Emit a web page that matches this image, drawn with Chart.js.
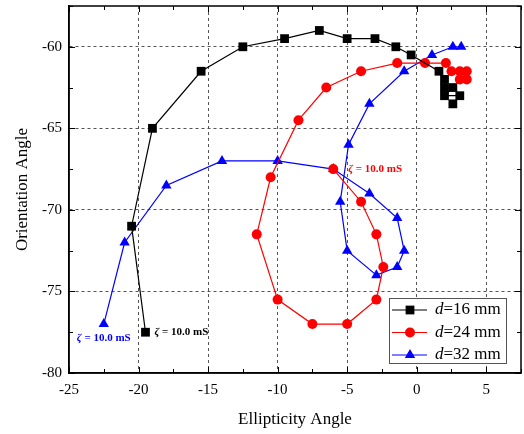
<!DOCTYPE html>
<html>
<head>
<meta charset="utf-8">
<script src="https://cdn.jsdelivr.net/npm/chart.js@4.4.1/dist/chart.umd.min.js"></script>
<style>
  html, body { margin: 0; padding: 0; background: #fff; }
  #wrap { width: 524px; height: 434px; }
</style>
</head>
<body>
<div id="wrap"><canvas id="chart" width="524" height="434"></canvas></div>
<script>
(function() {
    'use strict';

    // axis ticks
    const xTicks = [-25, -20, -15, -10, -5, 0, 5];
    const yTicks = [-80, -75, -70, -65, -60];

    // d = 16 mm
    const ellip16 = [-19.5, -20.5, -19, -15.5, -12.5, -9.5, -7, -5, -3, -1.5, -0.4, 1.6, 2, 2, 2.6, 2, 3.1, 2.6];
    const orient16 = [-77.5, -71, -65, -61.5, -60, -59.5, -59, -59.5, -59.5, -60, -60.5, -61.5, -62, -62.5, -62.5, -63, -63, -63.5];

    // d = 24 mm
    const ellip24 = [-6, -4, -2.9, -2.4, -2.9, -5, -7.5, -10, -11.5, -10.5, -8.5, -6.5, -4, -1.4, 0.6, 2.1, 2.5, 3.1, 3.6, 3.1, 3.6];
    const orient24 = [-67.5, -69.5, -71.5, -73.5, -75.5, -77, -77, -75.5, -71.5, -68, -64.5, -62.5, -61.5, -61, -61, -61, -61.5, -61.5, -61.5, -62, -62];

    // d = 32 mm
    const ellip32 = [-22.5, -21, -18, -14, -10, -6, -3.4, -1.4, -0.9, -1.4, -2.9, -5, -5.5, -4.9, -3.4, -0.9, 1.1, 2.6, 3.2];
    const orient32 = [-77, -72, -68.5, -67, -67, -67.5, -69, -70.5, -72.5, -73.5, -74, -72.5, -69.5, -66, -63.5, -61.5, -60.5, -60, -60];

    const seriesNames = ['16', '24', '32'];
    const seriesColors = ['#000000', '#ff0000', '#0000ff'];
    const seriesPoints = ['rect', 'circle', 'triangle'];
    const seriesRadius = [6.2, 5, 6];

    const SERIF = '"Liberation Serif", "Times New Roman", serif';

    function toPoints(xs, ys) {
        return xs.map((v, i) => ({ x: v, y: ys[i] }));
    }

    const allX = [ellip16, ellip24, ellip32];
    const allY = [orient16, orient24, orient32];

    const datasets = seriesNames.map((name, i) => ({
        label: 'd=' + name + ' mm',
        data: toPoints(allX[i], allY[i]),
        borderColor: seriesColors[i],
        backgroundColor: seriesColors[i],
        pointStyle: seriesPoints[i],
        pointRadius: seriesRadius[i],
        pointBorderWidth: 0,
        borderWidth: 1.2,
        tension: 0,
        fill: false
    }));

    // ζ = 10.0 mS labels
    function drawZeta(ctx, px, py, color, align) {
        ctx.save();
        ctx.fillStyle = color;
        ctx.textBaseline = 'middle';
        const f1 = 'italic bold 11px ' + SERIF;
        const f2 = 'bold 11px ' + SERIF;
        ctx.font = f1;
        const w1 = ctx.measureText('ζ').width;
        ctx.font = f2;
        const rest = ' = 10.0 mS';
        const w2 = ctx.measureText(rest).width;
        let x0 = px;
        if (align === 'center') x0 = px - (w1 + w2) / 2;
        ctx.textAlign = 'left';
        ctx.font = f1;
        ctx.fillText('ζ', x0, py);
        ctx.font = f2;
        ctx.fillText(rest, x0 + w1, py);
        ctx.restore();
    }

    const framePlugin = {
        id: 'frame',
        afterDraw(chart) {
            const { ctx, chartArea: a, scales: { x, y } } = chart;
            ctx.save();
            ctx.strokeStyle = '#000';
            ctx.lineWidth = 1.5;
            ctx.strokeRect(a.left, a.top, a.right - a.left, a.bottom - a.top);

            // inward ticks on all four sides
            ctx.lineWidth = 1;
            ctx.beginPath();
            for (let v = x.min; v <= x.max + 0.001; v += 2.5) {
                const len = (Math.abs(v % 5) < 0.01) ? 6 : 4;
                const px = Math.round(x.getPixelForValue(v)) + 0.5;
                ctx.moveTo(px, a.bottom); ctx.lineTo(px, a.bottom - len);
                ctx.moveTo(px, a.top); ctx.lineTo(px, a.top + len);
            }
            for (let v = y.min; v <= y.max + 0.001; v += 2.5) {
                const len = (Math.abs(v % 5) < 0.01) ? 6 : 4;
                const py = Math.round(y.getPixelForValue(v)) + 0.5;
                ctx.moveTo(a.left, py); ctx.lineTo(a.left + len, py);
                ctx.moveTo(a.right, py); ctx.lineTo(a.right - len, py);
            }
            ctx.stroke();

            // annotations
            drawZeta(ctx, x.getPixelForValue(ellip16[0]) + 9, y.getPixelForValue(orient16[0]), '#000000', 'left');
            drawZeta(ctx, x.getPixelForValue(ellip24[0]) + 15, y.getPixelForValue(orient24[0]), '#ff0000', 'left');
            drawZeta(ctx, x.getPixelForValue(ellip32[0]), y.getPixelForValue(orient32[0]) + 14, '#0000ff', 'center');

            // legend box
            const bx = a.right - 132, by = a.bottom - 75, bw = 117, bh = 65;
            ctx.fillStyle = '#fff';
            ctx.fillRect(bx, by, bw, bh);
            ctx.strokeStyle = '#555';
            ctx.lineWidth = 1;
            ctx.strokeRect(bx + 0.5, by + 0.5, bw, bh);
            seriesNames.forEach((name, i) => {
                const ry = by + 12 + i * 22.5;
                ctx.strokeStyle = seriesColors[i];
                ctx.fillStyle = seriesColors[i];
                ctx.lineWidth = 1.2;
                ctx.beginPath();
                ctx.moveTo(bx + 3, ry);
                ctx.lineTo(bx + 38, ry);
                ctx.stroke();
                Chart.helpers.drawPoint(ctx, { pointStyle: seriesPoints[i], radius: seriesRadius[i], rotation: 0, borderWidth: 0 }, bx + 21, ry);
                ctx.fillStyle = '#000';
                ctx.textBaseline = 'middle';
                ctx.textAlign = 'left';
                ctx.font = 'italic 17px ' + SERIF;
                const tx = bx + 46;
                ctx.fillText('d', tx, ry);
                const wd = ctx.measureText('d').width;
                ctx.font = '17px ' + SERIF;
                ctx.fillText('=' + name + ' mm', tx + wd, ry);
            });
            ctx.restore();
        }
    };

    document.addEventListener('DOMContentLoaded', () => {
        const ctx = document.getElementById('chart');
        new Chart(ctx, {
            type: 'line',
            data: { datasets: datasets },
            plugins: [framePlugin],
            options: {
                responsive: false,
                animation: false,
                layout: { autoPadding: false, padding: { left: 0, right: 3, top: 6, bottom: 0 } },
                plugins: {
                    legend: { display: false },
                    tooltip: { enabled: false }
                },
                scales: {
                    x: {
                        type: 'linear',
                        min: -25,
                        max: 7.5,
                        afterBuildTicks: (scale) => { scale.ticks = xTicks.map(v => ({ value: v })); },
                        afterFit: (scale) => {
                            scale.height = 61;
                            scale.paddingLeft = 0;
                            scale.paddingRight = 0;
                        },
                        ticks: {
                            color: '#000',
                            padding: 8,
                            maxRotation: 0,
                            font: { family: SERIF, size: 15 }
                        },
                        grid: {
                            drawTicks: false,
                            color: (c) => (c.tick && (c.tick.value === -25)) ? 'rgba(0,0,0,0)' : '#555',
                            lineWidth: 1
                        },
                        border: { display: true, color: '#000', width: 1.5, dash: [3, 3] },
                        title: {
                            display: true,
                            text: 'Ellipticity Angle',
                            color: '#000',
                            font: { family: SERIF, size: 17 },
                            padding: { top: 0, bottom: 4 }
                        }
                    },
                    y: {
                        type: 'linear',
                        min: -80,
                        max: -57.5,
                        afterBuildTicks: (scale) => { scale.ticks = yTicks.map(v => ({ value: v })); },
                        afterFit: (scale) => {
                            scale.width = 69;
                            scale.paddingTop = 0;
                            scale.paddingBottom = 0;
                        },
                        ticks: {
                            color: '#000',
                            padding: 7,
                            font: { family: SERIF, size: 15 }
                        },
                        grid: {
                            drawTicks: false,
                            color: (c) => (c.tick && (c.tick.value === -80)) ? 'rgba(0,0,0,0)' : '#555',
                            lineWidth: 1
                        },
                        border: { display: true, color: '#000', width: 1.5, dash: [3, 3] },
                        title: {
                            display: true,
                            text: 'Orientation Angle',
                            color: '#000',
                            font: { family: SERIF, size: 17 },
                            padding: { top: 12, bottom: 0 }
                        }
                    }
                }
            }
        });
    });
})();
</script>
</body>
</html>
